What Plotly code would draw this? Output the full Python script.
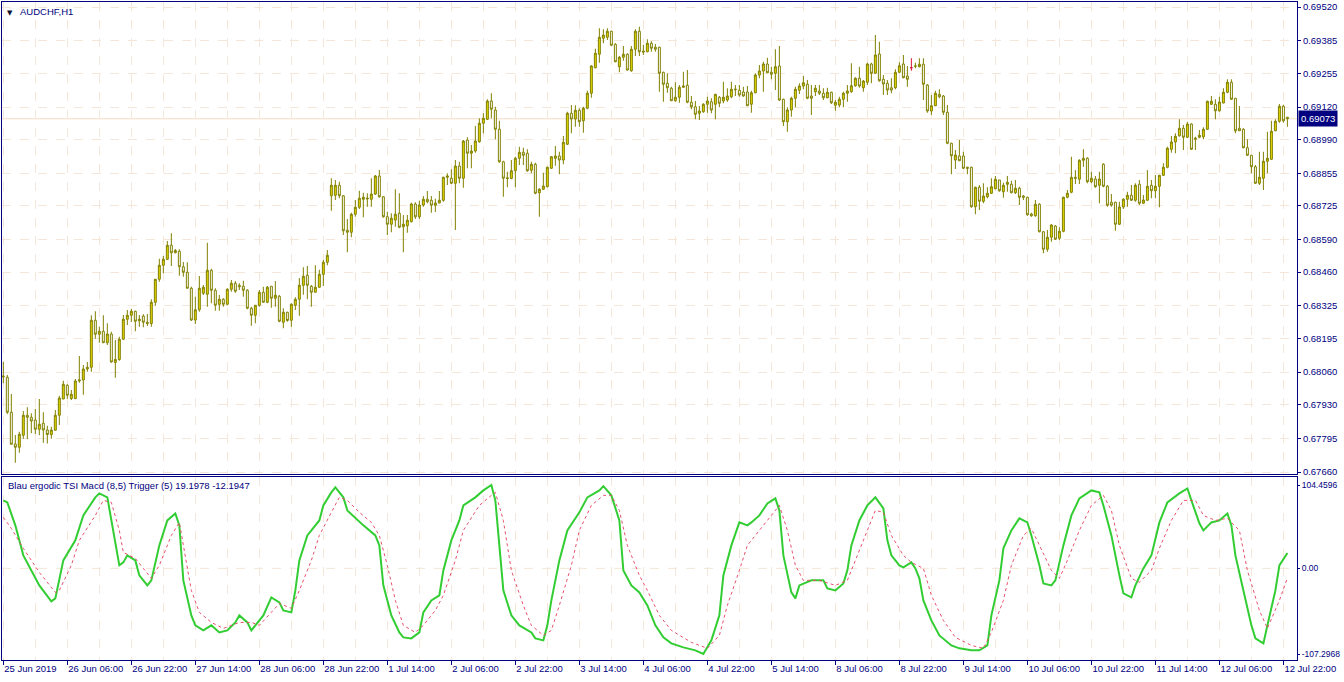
import plotly.graph_objects as go

# ---------------- DATA (prices in 1e-5 units, AUDCHF H1) ----------------
open_pts = [
 68044,68039,67899,67772,67759,67807,67887,67879,67868,67831,
 67855,67828,67810,67827,67887,67952,68007,67954,67954,68024,
 68028,68072,68079,68267,68211,68223,68177,68212,68098,68110,
 68191,68271,68287,68303,68265,68284,68259,68254,68339,68431,
 68487,68511,68567,68537,68543,68481,68459,68395,68268,68309,
 68375,68371,68467,68387,68331,68351,68331,68391,68415,68407,
 68403,68387,68315,68287,68327,68379,68339,68403,68355,68363,
 68259,68299,68267,68327,68351,68407,68447,68403,68379,68399,
 68451,68499,68765,68767,68807,68765,68627,68619,68691,68719,
 68751,68752,68751,68772,68844,68761,68681,68651,68668,68695,
 68641,68645,68661,68732,68681,68728,68751,68747,68727,68736,
 68747,68839,68835,68815,68884,68835,68988,68935,68944,68981,
 69055,69071,69144,69108,69031,68901,68837,68834,68865,68915,
 68939,68935,68867,68891,68777,68791,68801,68875,68915,68924,
 68908,68971,69095,69072,69107,69065,69115,69175,69277,69331,
 69395,69399,69423,69371,69281,69319,69331,69265,69351,69423,
 69344,69341,69375,69359,69359,69259,69215,69195,69145,69159,
 69199,69207,69139,69121,69095,69101,69131,69141,69131,69159,
 69144,69148,69161,69189,69187,69180,69180,69131,69177,69248,
 69264,69292,69259,69255,69284,69151,69061,69108,69155,69187,
 69204,69211,69164,69181,69184,69175,69157,69179,69127,69128,
 69151,69175,69181,69205,69235,69197,69219,69292,69255,69332,
 69231,69215,69197,69197,69259,69292,69244,69277,69283,69281,
 69291,69208,69104,69125,69171,69164,69099,68975,68908,68924,
 68924,68879,68879,68721,68799,68743,68761,68775,68793,68828,
 68781,68811,68811,68777,68795,68764,68759,68692,68685,68731,
 68621,68551,68599,68644,68595,68623,68759,68779,68839,68831,
 68907,68915,68821,68832,68807,68891,68803,68739,68739,68651,
 68720,68751,68767,68747,68811,68735,68747,68807,68785,68803,
 68847,68879,68951,68980,69005,69035,68999,69052,68991,68999,
 69001,69031,69131,69131,69105,69136,69179,69219,69155,69035,
 69031,68957,68927,68881,68815,68835,68903,68911,69025,69063,
 69123,69079]
high_pts = [
 68101,68048,67972,67808,67821,67904,67919,67895,67912,67952,
 67899,67845,67841,67908,67965,68025,68011,67988,68032,68124,
 68088,68100,68287,68303,68241,68287,68255,68221,68188,68201,
 68288,68308,68312,68305,68288,68291,68292,68351,68432,68513,
 68524,68584,68615,68552,68551,68500,68499,68401,68361,68444,
 68408,68577,68473,68395,68368,68355,68395,68428,68424,68415,
 68425,68391,68321,68327,68388,68401,68404,68404,68424,68368,
 68315,68301,68335,68359,68436,68479,68484,68408,68487,68469,
 68508,68548,68835,68828,68821,68768,68672,68697,68748,68785,
 68777,68775,68835,68848,68868,68764,68701,68695,68791,68775,
 68688,68688,68737,68739,68745,68764,68784,68764,68753,68784,
 68841,68855,68871,68908,68901,68988,68999,68968,69044,69075,
 69095,69151,69175,69121,69065,68905,68861,68908,68921,68961,
 68957,68951,68901,68897,68795,68857,68881,68924,68964,68941,
 69004,69101,69128,69127,69115,69121,69185,69288,69353,69435,
 69431,69435,69425,69375,69324,69364,69335,69364,69431,69441,
 69368,69391,69383,69372,69361,69261,69255,69201,69219,69208,
 69261,69268,69164,69144,69124,69135,69161,69155,69172,69164,
 69221,69195,69221,69208,69208,69201,69204,69185,69255,69288,
 69301,69317,69281,69351,69364,69153,69119,69161,69201,69215,
 69244,69228,69208,69208,69208,69195,69197,69181,69148,69161,
 69181,69208,69295,69239,69281,69228,69297,69297,69408,69381,
 69248,69228,69235,69271,69299,69328,69284,69315,69297,69315,
 69315,69212,69168,69185,69191,69168,69128,68977,68948,68988,
 68941,68881,68881,68801,68808,68815,68799,68835,68844,68828,
 68817,68844,68825,68828,68801,68768,68761,68697,68748,68735,
 68624,68628,68652,68648,68639,68761,68788,68921,68868,68911,
 68951,68919,68861,68844,68861,68895,68808,68772,68741,68741,
 68755,68781,68808,68815,68828,68768,68868,68828,68848,68848,
 68895,68961,69004,69015,69071,69048,69061,69055,69001,69028,
 69039,69145,69164,69151,69161,69195,69231,69231,69155,69124,
 69035,68991,68928,68888,68941,68941,69021,69065,69071,69132,
 69129,69080]
low_pts = [
 68015,67892,67771,67697,67737,67793,67791,67815,67812,67807,
 67777,67774,67793,67827,67848,67952,67953,67948,67951,68017,
 67969,68061,68061,68193,68177,68177,68168,68097,68037,68105,
 68188,68248,68260,68223,68241,68239,68244,68241,68325,68421,
 68455,68508,68484,68535,68445,68441,68395,68264,68252,68301,
 68368,68321,68335,68305,68305,68321,68327,68381,68377,68388,
 68361,68311,68245,68255,68321,68337,68335,68317,68321,68259,
 68235,68261,68241,68308,68285,68369,68351,68321,68379,68397,
 68404,68487,68705,68748,68755,68608,68539,68599,68681,68712,
 68679,68721,68721,68768,68757,68677,68608,68619,68641,68635,
 68539,68617,68659,68672,68672,68721,68735,68697,68700,68735,
 68741,68808,68812,68628,68815,68797,68875,68875,68937,68977,
 69015,69068,69075,68991,68897,68761,68799,68831,68799,68888,
 68888,68861,68855,68771,68681,68788,68799,68872,68885,68851,
 68891,68968,69015,69041,69041,69017,69111,69157,69275,69297,
 69375,69388,69365,69299,69259,69305,69265,69261,69324,69324,
 69328,69339,69341,69341,69181,69141,69177,69144,69141,69137,
 69197,69135,69111,69071,69068,69097,69097,69095,69071,69119,
 69135,69141,69155,69164,69161,69161,69124,69097,69175,69235,
 69181,69255,69231,69188,69144,69044,69021,69081,69119,69172,
 69191,69151,69088,69164,69168,69148,69155,69132,69105,69119,
 69119,69141,69177,69201,69197,69181,69208,69215,69252,69221,
 69168,69168,69175,69191,69255,69235,69201,69265,69275,69279,
 69148,69097,69088,69124,69155,69088,68971,68851,68872,68904,
 68872,68851,68717,68691,68708,68735,68755,68772,68791,68781,
 68757,68781,68775,68772,68728,68748,68685,68681,68681,68619,
 68535,68541,68581,68588,68588,68619,68755,68775,68812,68812,
 68881,68815,68815,68797,68735,68799,68721,68721,68625,68648,
 68712,68721,68744,68741,68728,68732,68744,68755,68755,68719,
 68844,68875,68937,68935,69001,68948,68996,68948,68948,68995,
 68991,69028,69128,69071,69101,69135,69175,69148,69015,69025,
 68955,68924,68855,68812,68808,68788,68855,68908,69023,69057,
 69057,69041]
close_pts = [
 68041,67899,67771,67759,67811,67887,67879,67864,67831,67851,
 67828,67810,67828,67887,67956,68011,67967,67971,68024,68028,
 68072,68079,68267,68211,68223,68177,68212,68100,68110,68191,
 68271,68287,68303,68263,68271,68259,68254,68339,68431,68487,
 68511,68567,68537,68546,68481,68459,68395,68268,68309,68395,
 68399,68467,68387,68327,68351,68331,68391,68415,68383,68401,
 68387,68315,68287,68327,68379,68339,68399,68355,68367,68263,
 68299,68266,68331,68351,68407,68443,68407,68379,68399,68451,
 68499,68527,68807,68807,68765,68625,68619,68691,68719,68755,
 68759,68755,68772,68844,68761,68681,68651,68675,68691,68639,
 68651,68667,68732,68681,68728,68751,68741,68727,68736,68747,
 68839,68844,68815,68884,68835,68984,68935,68944,68984,69055,
 69075,69144,69111,69031,68901,68835,68834,68865,68915,68939,
 68927,68865,68891,68775,68791,68804,68879,68921,68924,68908,
 68979,69095,69072,69107,69061,69115,69175,69284,69335,69399,
 69408,69423,69367,69301,69319,69331,69268,69351,69423,69341,
 69340,69375,69355,69351,69255,69211,69197,69145,69159,69199,
 69204,69139,69121,69091,69104,69131,69144,69108,69171,69135,
 69159,69164,69191,69191,69168,69164,69125,69177,69248,69264,
 69292,69257,69251,69281,69148,69061,69108,69155,69191,69204,
 69217,69155,69155,69195,69175,69157,69179,69137,69139,69151,
 69175,69184,69205,69235,69204,69224,69292,69255,69328,69225,
 69212,69188,69188,69259,69285,69237,69231,69277,69284,69291,
 69211,69104,69125,69175,69161,69099,68975,68925,68928,68905,
 68875,68875,68721,68799,68743,68764,68775,68801,68831,68785,
 68807,68819,68777,68795,68759,68759,68689,68685,68731,68621,
 68551,68599,68648,68591,68623,68759,68775,68839,68835,68907,
 68915,68821,68835,68801,68832,68803,68727,68727,68651,68720,
 68751,68767,68747,68807,68735,68748,68803,68785,68803,68847,
 68879,68955,68980,69003,69035,68999,69052,68951,68995,69007,
 69031,69143,69143,69105,69140,69179,69219,69151,69025,69025,
 68957,68927,68881,68815,68839,68903,68915,69023,69063,69123,
 69065,69073]

# Blau ergodic TSI MACD (8,5): main line vertices (bar index, value)
tsi_bar = [0,1,3,5,9,12,13,15,18,20,
           23,24,26,29,30,31,33,34,36,37,
           39,41,43,44,45,47,48,50,52,54,
           56,58,59,61,62,63,65,67,69,70,
           72,73,74,76,79,80,82,83,85,86,
           88,90,93,94,95,97,99,100,102,104,
           105,107,109,110,112,114,115,118,120,122,
           123,124,125,127,129,132,133,135,136,137,
           139,141,144,146,149,150,152,154,155,157,
           159,161,163,165,167,170,173,175,177,179,
           180,182,184,186,187,189,191,193,194,195,
           197,198,199,202,205,206,208,210,211,212,
           214,216,218,220,221,222,224,225,227,228,
           229,230,232,234,237,239,242,244,246,247,
           249,250,252,254,256,257,259,260,262,263,
           265,267,269,272,274,275,277,279,280,282,
           283,285,287,289,291,294,296,297,299,300,
           302,304,306,307,308,310,312,313,315,316,
           318,319,321]
tsi_val = [85.2,82.7,53.9,16.3,-21.3,-41.3,-37.6,10.0,35.1,66.4,
           89.0,94.0,89.0,3.8,7.5,16.3,10.0,-8.8,-21.3,-15.0,
           28.8,60.1,68.9,53.9,-15.0,-58.9,-71.4,-77.7,-71.4,-80.2,
           -77.7,-67.7,-58.9,-67.7,-77.7,-71.4,-58.9,-36.3,-42.6,-52.6,
           -55.1,-27.6,10.0,41.3,60.1,78.9,95.2,101.5,89.0,72.7,
           62.7,53.9,41.3,28.8,-21.3,-58.9,-80.2,-86.5,-87.7,-80.2,
           -55.1,-40.1,-33.8,-2.5,35.1,60.1,78.9,89.0,97.7,104.4596,
           85.2,28.8,-27.6,-58.9,-71.4,-80.2,-87.7,-90.2,-71.4,-40.1,
           10.0,47.6,70.2,89.0,97.7,103.0,91.5,60.1,-2.5,-21.3,
           -30.1,-46.4,-71.4,-86.5,-94.0,-99.0,-102.7,-107.2968,-90.2,-58.9,
           -8.8,28.8,57.6,53.9,57.6,66.4,81.4,87.7,72.7,16.3,
           -30.1,-37.6,-21.3,-15.0,-15.0,-25.1,-27.6,-18.8,-2.5,28.8,
           60.1,78.9,89.0,75.2,35.1,16.3,3.8,1.3,7.5,0.0,
           -12.5,-40.1,-65.2,-84.0,-96.5,-100.2,-102.7,-102.7,-96.5,-58.9,
           -15.0,25.1,47.6,62.7,57.6,41.3,3.8,-18.8,-21.3,-15.0,
           28.8,66.4,87.7,97.7,95.2,78.9,41.3,-8.8,-31.3,-36.3,
           -21.3,0.0,16.3,57.6,82.7,94.0,100.2,85.2,56.4,47.6,
           57.6,60.1,68.9,53.9,16.3,-27.6,-71.4,-87.7,-94.0,-71.4,
           -27.6,3.8,19.1978]
# Trigger (5) line vertices
trig_bar = [0,2,5,9,13,14,17,19,23,25,
            27,29,30,33,35,37,39,42,44,45,
            47,49,52,55,59,62,64,67,69,72,
            74,77,79,82,84,86,89,92,94,96,
            98,100,103,105,108,110,113,115,119,122,
            123,125,127,130,132,135,137,139,142,144,
            147,150,152,154,156,159,161,164,167,172,
            176,179,181,184,186,189,192,194,196,198,
            200,204,208,211,213,216,218,220,222,225,
            227,230,232,235,238,242,245,247,250,252,
            255,257,259,262,264,266,269,272,275,277,
            279,282,284,287,289,292,295,298,300,303,
            306,309,311,314,316,319,321]
trig_val = [63.9,50.1,25.1,-5.0,-30.1,-27.6,3.8,35.1,66.4,85.2,
            82.7,47.6,20.0,12.5,0.0,-12.5,3.8,41.3,57.6,28.8,
            -27.6,-55.1,-67.7,-75.2,-67.7,-67.7,-71.4,-55.1,-43.9,-50.1,
            -27.6,10.0,41.3,70.2,89.0,85.2,70.2,57.6,41.3,3.8,
            -40.1,-71.4,-80.2,-71.4,-52.6,-33.8,10.0,47.6,78.9,91.5,
            95.2,60.1,-2.5,-46.4,-71.4,-84.0,-77.7,-46.4,3.8,47.6,
            78.9,91.5,91.5,72.7,28.8,-8.8,-27.6,-58.9,-77.7,-92.7,
            -100.2,-84.0,-46.4,-2.5,28.8,47.6,66.4,78.9,47.6,3.8,
            -15.0,-15.0,-21.3,-15.0,10.0,47.6,72.7,70.2,41.3,16.3,
            7.5,0.0,-33.8,-65.2,-86.5,-96.5,-100.2,-80.2,-40.1,3.8,
            41.3,50.1,28.8,-2.5,-12.5,10.0,47.6,78.9,91.5,72.7,
            28.8,-12.5,-17.5,-2.5,25.1,60.1,85.2,85.2,66.4,60.1,
            62.7,47.6,-2.5,-52.6,-75.2,-40.1,-12.1947]

time_labels = ["25 Jun 2019", "26 Jun 06:00", "26 Jun 22:00", "27 Jun 14:00",
               "28 Jun 06:00", "28 Jun 22:00", "1 Jul 14:00", "2 Jul 06:00",
               "2 Jul 22:00", "3 Jul 14:00", "4 Jul 06:00", "4 Jul 22:00",
               "5 Jul 14:00", "8 Jul 06:00", "8 Jul 22:00", "9 Jul 14:00",
               "10 Jul 06:00", "10 Jul 22:00", "11 Jul 14:00", "12 Jul 06:00",
               "12 Jul 22:00"]
price_tick_labels = ["0.69520", "0.69385", "0.69255", "0.69120", "0.68990",
                     "0.68855", "0.68725", "0.68590", "0.68460", "0.68325",
                     "0.68195", "0.68060", "0.67930", "0.67795", "0.67660"]
ind_tick_vals = [104.4596, 0.0, -107.2968]
ind_tick_labels = ["104.4596", "0.00", "-107.2968"]
main_value, trigger_value = 19.1978, -12.1947

# ---------------- FIGURE ----------------
NAVY = "#000080"
GRID = "#f4e6d8"
FONT = "Liberation Sans, Arial, sans-serif"
FS = 9.5
BULL_FILL = "#e6d800"
OUTLINE = "#808000"

n = len(close_pts)
bars = list(range(n))
O = [v / 1e5 for v in open_pts]
C = [v / 1e5 for v in close_pts]
Hh = [max(open_pts[i], close_pts[i], high_pts[i]) / 1e5 for i in bars]
Ll = [min(open_pts[i], close_pts[i], low_pts[i]) / 1e5 for i in bars]

doji = [i for i in bars if open_pts[i] == close_pts[i]]
norm = [i for i in bars if open_pts[i] != close_pts[i]]

fig = go.Figure()
fig.add_trace(go.Candlestick(
    x=norm, open=[O[i] for i in norm], high=[Hh[i] for i in norm],
    low=[Ll[i] for i in norm], close=[C[i] for i in norm],
    xaxis="x", yaxis="y", whiskerwidth=0, hoverinfo="skip",
    increasing=dict(fillcolor=BULL_FILL, line=dict(color=OUTLINE, width=1)),
    decreasing=dict(fillcolor="#ffffff", line=dict(color=OUTLINE, width=1)),
))
if doji:
    fig.add_trace(go.Candlestick(
        x=doji, open=[O[i] for i in doji], high=[Hh[i] for i in doji],
        low=[Ll[i] for i in doji], close=[C[i] for i in doji],
        xaxis="x", yaxis="y", whiskerwidth=0, hoverinfo="skip",
        increasing=dict(fillcolor="#dc143c", line=dict(color="#dc143c", width=1)),
        decreasing=dict(fillcolor="#dc143c", line=dict(color="#dc143c", width=1)),
    ))
fig.add_trace(go.Scatter(x=tsi_bar, y=tsi_val, xaxis="x2", yaxis="y2", mode="lines",
                         line=dict(color="#32cd32", width=2), hoverinfo="skip"))
fig.add_trace(go.Scatter(x=trig_bar, y=trig_val, xaxis="x2", yaxis="y2", mode="lines",
                         line=dict(color="#e8506e", width=1, dash="dot"), hoverinfo="skip"))

W, HGT = 1344, 682
ml, mr, mt, mb = 2, 47, 2, 22
ph = HGT - mt - mb
price_dom = [(HGT - mb - 474) / ph, 1.0]
ind_dom = [0.0, (HGT - mb - 477) / ph]
xr = [-0.33, 323.4]
major = list(range(0, n, 16))
minor = list(range(8, n + 8, 16))

common_x = dict(range=xr, showline=True, mirror=True, linecolor=NAVY, linewidth=1,
                zeroline=False, showgrid=True, gridcolor=GRID, griddash="dash", gridwidth=1,
                tickmode="array", tickvals=major, automargin=False,
                minor=dict(tickmode="array", tickvals=minor, showgrid=True, gridcolor=GRID,
                           griddash="dash", ticks=""))
fig.update_layout(
    width=W, height=HGT, margin=dict(l=ml, r=mr, t=mt, b=mb, autoexpand=False),
    paper_bgcolor="white", plot_bgcolor="white", showlegend=False, hovermode=False,
    font=dict(family=FONT, size=FS, color=NAVY),
    xaxis=dict(common_x, anchor="y", domain=[0, 1], showticklabels=False, ticks="",
               rangeslider=dict(visible=False), matches="x2"),
    xaxis2=dict(common_x, anchor="y2", domain=[0, 1], ticktext=time_labels,
                ticks="outside", ticklen=4, tickcolor=NAVY, tickangle=0,
                ticklabelposition="outside right", tickfont=dict(size=FS, color=NAVY)),
    yaxis=dict(domain=price_dom, anchor="x", side="right", automargin=False,
               range=[0.67652, 0.6954], tickmode="array",
               tickvals=[float(s) for s in price_tick_labels], ticktext=price_tick_labels,
               ticks="outside", ticklen=3, tickcolor=NAVY, tickfont=dict(size=FS, color=NAVY),
               showgrid=True, gridcolor=GRID, griddash="dash", zeroline=False,
               showline=True, mirror=True, linecolor=NAVY, linewidth=1),
    yaxis2=dict(domain=ind_dom, anchor="x2", side="right", automargin=False,
                range=[-114.8, 114.5], tickmode="array",
                tickvals=ind_tick_vals, ticktext=ind_tick_labels,
                ticks="outside", ticklen=2, tickcolor=NAVY, tickfont=dict(size=8.5, color=NAVY),
                showgrid=False, zeroline=False,
                showline=True, mirror=True, linecolor=NAVY, linewidth=1),
)

last = C[-1]
fig.add_shape(type="line", xref="x domain", yref="y", x0=0, x1=1, y0=last, y1=last,
              line=dict(color="#f6dcc2", width=1), layer="below")
fig.add_shape(type="line", xref="x2 domain", yref="y2", x0=0, x1=1, y0=0, y1=0,
              line=dict(color=GRID, width=1, dash="dash"), layer="below")

fig.add_annotation(xref="paper", yref="y", x=1, y=last, xanchor="left", yanchor="middle",
                   xshift=1, text=f"{last:.5f}", showarrow=False, bgcolor=NAVY,
                   font=dict(color="white", size=FS, family=FONT), borderpad=2)
fig.add_annotation(xref="paper", yref="paper", x=0, y=1, xanchor="left", yanchor="top",
                   xshift=3, yshift=-5, text="▼", showarrow=False,
                   font=dict(color="#101030", size=7, family="DejaVu Sans"))
fig.add_annotation(xref="paper", yref="paper", x=0, y=1, xanchor="left", yanchor="top",
                   xshift=16, yshift=-2, text="AUDCHF,H1", showarrow=False,
                   font=dict(color=NAVY, size=FS, family=FONT))
fig.add_annotation(xref="paper", yref="y2 domain", x=0, y=1, xanchor="left", yanchor="top",
                   xshift=4, yshift=-1,
                   text=f"Blau ergodic TSI Macd (8,5) Trigger (5) {main_value:.4f} {trigger_value:.4f}",
                   showarrow=False, font=dict(color=NAVY, size=FS, family=FONT))

fig.write_html("out.html", config={"displayModeBar": False},
               post_script="document.body.style.margin='0';document.body.style.overflow='hidden';")
